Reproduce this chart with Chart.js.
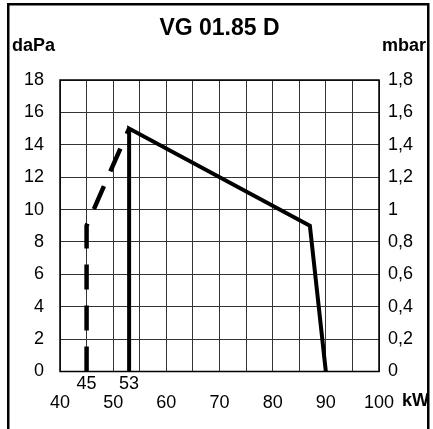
<!DOCTYPE html>
<html><head><meta charset="utf-8">
<script src="https://cdn.jsdelivr.net/npm/chart.js@4/dist/chart.umd.min.js"></script>
<style>html,body{margin:0;padding:0;background:#fff;overflow:hidden;} #wrap{width:433px;height:429px;position:relative;}</style>
</head><body><div id="wrap"><canvas id="c" width="433" height="429"></canvas></div>
<script>
const chartTitle = 'VG 01.85 D';
const leftUnit = 'daPa';
const rightUnit = 'mbar';
const xUnit = 'kW';
const kwGrid = [40,45,50,55,60,65,70,75,80,85,90,95,100];
const kwTicks = [40,50,60,70,80,90,100];
const kwMarkers = [45,53];
const daPaTicks = [0,2,4,6,8,10,12,14,16,18];
const mbarTicks = [0,0.2,0.4,0.6,0.8,1,1.2,1.4,1.6,1.8];
const mbarLabels = ['0','0,2','0,4','0,6','0,8','1','1,2','1,4','1,6','1,8'];
const solidKw = [53,53,87,90];
const solidDaPa = [0,15,9,0];
const dashedKw = [45,45,53];
const dashedDaPa = [0,9,15];

const FONT = "'Liberation Sans', Arial, Helvetica, sans-serif";

const decor = {
  id: 'decor',
  beforeDraw(chart) {
    const ctx = chart.ctx;
    ctx.save();
    ctx.fillStyle = '#fff';
    ctx.fillRect(0, 0, chart.width, chart.height);
    ctx.restore();
  },
  afterDraw(chart) {
    const ctx = chart.ctx;
    const a = chart.chartArea;
    ctx.save();
    // outer frame
    ctx.strokeStyle = '#000';
    ctx.lineWidth = 2.5;
    ctx.strokeRect(8.25, 4.25, 420, 500);
    // plot frame
    ctx.lineWidth = 1.5;
    ctx.strokeRect(a.left, a.top, a.right - a.left, a.bottom - a.top);
    // texts
    ctx.fillStyle = '#000';
    ctx.textBaseline = 'middle';
    ctx.textAlign = 'center';
    ctx.font = 'bold 23px ' + FONT;
    ctx.fillText(chartTitle, (a.left + a.right) / 2, 29);
    ctx.font = 'bold 18px ' + FONT;
    ctx.textAlign = 'left';
    ctx.fillText(leftUnit, 12, 46);
    ctx.fillText(rightUnit, 382, 46);
    ctx.fillText(xUnit, 402, 401);
    ctx.restore();
  }
};

new Chart(document.getElementById('c'), {
  type: 'scatter',
  data: {
    datasets: [
      {
        data: solidKw.map((x, i) => ({x, y: solidDaPa[i]})),
        showLine: true, borderColor: '#000', borderWidth: 4, pointRadius: 0,
        borderJoinStyle: 'miter', tension: 0, xAxisID: 'x', yAxisID: 'y'
      },
      {
        data: dashedKw.map((x, i) => ({x, y: dashedDaPa[i]})),
        showLine: true, borderColor: '#000', borderWidth: 4.5, pointRadius: 0,
        borderDash: [25, 16], tension: 0, xAxisID: 'x', yAxisID: 'y'
      }
    ]
  },
  options: {
    responsive: false, animation: false, devicePixelRatio: 1,
    layout: { padding: { top: 80, left: 0, right: 0, bottom: 0 } },
    plugins: { legend: { display: false }, tooltip: { enabled: false }, title: { display: false } },
    scales: {
      x: {
        type: 'linear', position: 'bottom', min: 40, max: 100, weight: 1,
        afterBuildTicks: s => { s.ticks = kwGrid.map(v => ({value: v})); },
        afterFit: s => { s.height = 36.5; },
        grid: { color: '#333', lineWidth: 1, drawTicks: false },
        border: { display: false },
        ticks: { color: '#000', font: { family: FONT, size: 18 }, padding: 0, maxRotation: 0, autoSkip: false,
          callback: v => kwTicks.includes(v) ? String(v) : '' }
      },
      xm: {
        type: 'linear', position: 'bottom', min: 40, max: 100, weight: 0,
        afterBuildTicks: s => { s.ticks = kwMarkers.map(v => ({value: v})); },
        afterFit: s => { s.height = 21; },
        grid: { display: false, drawTicks: false },
        border: { display: false },
        ticks: { color: '#000', font: { family: FONT, size: 18 }, padding: 2, maxRotation: 0, autoSkip: false,
          callback: v => String(v) }
      },
      y: {
        type: 'linear', position: 'left', min: 0, max: 18,
        afterBuildTicks: s => { s.ticks = daPaTicks.map(v => ({value: v})); },
        afterFit: s => { s.width = 60; },
        grid: { color: '#333', lineWidth: 1, drawTicks: false },
        border: { display: false },
        ticks: { color: '#000', font: { family: FONT, size: 18 }, padding: 16, callback: v => String(v) }
      },
      y2: {
        type: 'linear', position: 'right', min: 0, max: 1.8,
        afterBuildTicks: s => { s.ticks = mbarTicks.map(v => ({value: v})); },
        afterFit: s => { s.width = 54; },
        grid: { display: false, drawTicks: false },
        border: { display: false },
        ticks: { color: '#000', font: { family: FONT, size: 18 }, padding: 9,
          callback: (v, i) => mbarLabels[i] }
      }
    }
  },
  plugins: [decor]
});
</script></body></html>
